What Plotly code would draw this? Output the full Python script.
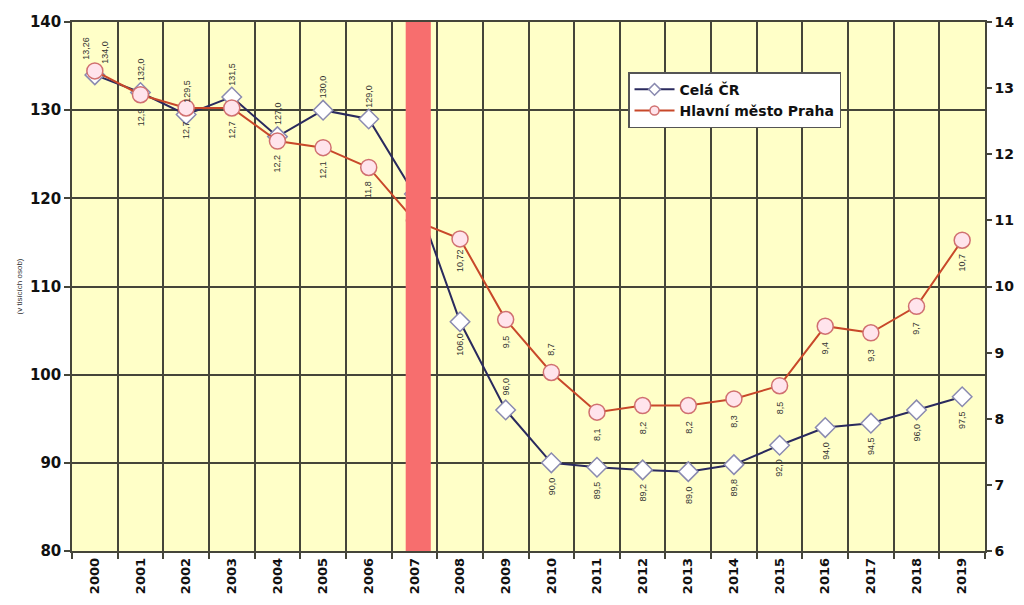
import plotly.graph_objects as go

# ---- data ----
years = ["2000", "2001", "2002", "2003", "2004", "2005", "2006", "2007", "2008", "2009",
         "2010", "2011", "2012", "2013", "2014", "2015", "2016", "2017", "2018", "2019"]
cela_cr = [134.0, 132.0, 129.5, 131.5, 127.0, 130.0, 129.0, 120.5, 106.0, 96.0,
           90.0, 89.5, 89.2, 89.0, 89.8, 92.0, 94.0, 94.5, 96.0, 97.5]
praha = [13.26, 12.9, 12.7, 12.7, 12.2, 12.1, 11.8, 11.0, 10.72, 9.5,
         8.7, 8.1, 8.2, 8.2, 8.3, 8.5, 9.4, 9.3, 9.7, 10.7]
band_years = ["2007"]
band_top = [140]
left_ticks = [80, 90, 100, 110, 120, 130, 140]
right_ticks = [6, 7, 8, 9, 10, 11, 12, 13, 14]

# label placement (style, not data)
cela_above = {"2000", "2001", "2002", "2003", "2004", "2005", "2006", "2009"}
praha_above = {"2000", "2010"}

GRID = "#45453a"
TICKFONT = dict(family="DejaVu Sans", size=14, color="#111111", weight="bold")

CELA_LINE = dict(color="#2a2a5e", width=2)
CELA_MARK = dict(symbol="diamond", color="white", line=dict(color="#8a8ab0", width=1.5))
PRAHA_LINE = dict(color="#c8482a", width=2)
PRAHA_MARK = dict(symbol="circle", color="#ffe4ec", line=dict(color="#d07070", width=1.5))

fig = go.Figure()

fig.add_trace(go.Scatter(
    x=years, y=cela_cr, name="Celá ČR", mode="lines+markers",
    line=CELA_LINE, marker=dict(size=15, **CELA_MARK),
    yaxis="y", showlegend=False))

fig.add_trace(go.Scatter(
    x=years, y=praha, name="Hlavní město Praha", mode="lines+markers",
    line=PRAHA_LINE, marker=dict(size=16, **PRAHA_MARK),
    yaxis="y2", showlegend=False))

# legend entries (smaller symbols, as in the original legend)
fig.add_trace(go.Scatter(x=[None], y=[None], name="Celá ČR", mode="lines+markers",
                         line=CELA_LINE, marker=dict(size=9, **CELA_MARK)))
fig.add_trace(go.Scatter(x=[None], y=[None], name="Hlavní město Praha", mode="lines+markers",
                         line=PRAHA_LINE, marker=dict(size=9, **PRAHA_MARK)))

fig.add_trace(go.Bar(
    x=band_years, y=[t - left_ticks[0] for t in band_top], base=left_ticks[0],
    width=0.55, offset=-0.19, marker=dict(color="#f76e6e", line=dict(width=0)),
    showlegend=False, yaxis="y3", hoverinfo="skip"))

LABELFONT = dict(family="Liberation Sans", size=9, color="#333333")
annotations = []
for i, (yr, v) in enumerate(zip(years, cela_cr)):
    if yr in band_years:
        continue
    above = yr in cela_above
    annotations.append(dict(
        x=i, y=v, xref="x", yref="y", text=f"{v:.1f}".replace(".", ","),
        showarrow=False, textangle=-90, xanchor="center", yanchor="middle",
        yshift=23 if above else -23, xshift=10 if i == 0 else 0, font=LABELFONT))
for i, (yr, v) in enumerate(zip(years, praha)):
    if yr in band_years:
        continue
    above = yr in praha_above
    annotations.append(dict(
        x=i, y=v, xref="x", yref="y2", text=f"{v:g}".replace(".", ","),
        showarrow=False, textangle=-90, xanchor="center", yanchor="middle",
        yshift=23 if above else -22, xshift=-9 if i == 0 else 0, font=LABELFONT))

# the page body adds an 8px offset, so the figure is 8px smaller and shifted
fig.update_layout(
    width=1016, height=597,
    margin=dict(l=64, r=39, t=14, b=54),
    paper_bgcolor="white", plot_bgcolor="#ffffc8",
    showlegend=True,
    legend=dict(x=0.609, y=0.905, xanchor="left", yanchor="top",
                bgcolor="white", bordercolor="#555555", borderwidth=1.5,
                font=dict(family="DejaVu Sans", size=14, color="#111111", weight="bold"),
                itemwidth=40, tracegroupgap=0),
    xaxis=dict(type="category", categoryorder="array", categoryarray=years,
               tickson="boundaries", showgrid=True, gridcolor=GRID, gridwidth=1.5,
               showline=True, linecolor=GRID, linewidth=1.5, mirror=True,
               ticks="outside", ticklen=6, tickcolor=GRID, tickwidth=1.5,
               tickangle=-90, automargin=False,
               tickfont=dict(family="DejaVu Sans", size=13, color="#111111", weight="bold"),
               range=[-0.5, len(years) - 0.5]),
    yaxis=dict(range=[left_ticks[0], left_ticks[-1]], tickvals=left_ticks,
               showgrid=True, gridcolor=GRID, gridwidth=1.5, zeroline=False,
               showline=True, linecolor=GRID, linewidth=1.5, automargin=False,
               ticks="outside", ticklen=6, tickcolor=GRID, tickwidth=1.5,
               tickfont=dict(family="DejaVu Sans", size=15, color="#111111", weight="bold"),
               title=dict(text="(v tisících osob)", standoff=6,
                          font=dict(family="Liberation Sans", size=8, color="#333333"))),
    yaxis2=dict(range=[right_ticks[0], right_ticks[-1]], tickvals=right_ticks,
                overlaying="y", side="right", showgrid=False, zeroline=False,
                showline=True, linecolor=GRID, linewidth=1.5, automargin=False,
                ticks="outside", ticklen=5, tickcolor=GRID, tickwidth=1.5,
                tickfont=TICKFONT),
    yaxis3=dict(range=[left_ticks[0], left_ticks[-1]], overlaying="y",
                visible=False, showgrid=False, automargin=False),
    annotations=annotations,
)

fig.write_html("out.html")
